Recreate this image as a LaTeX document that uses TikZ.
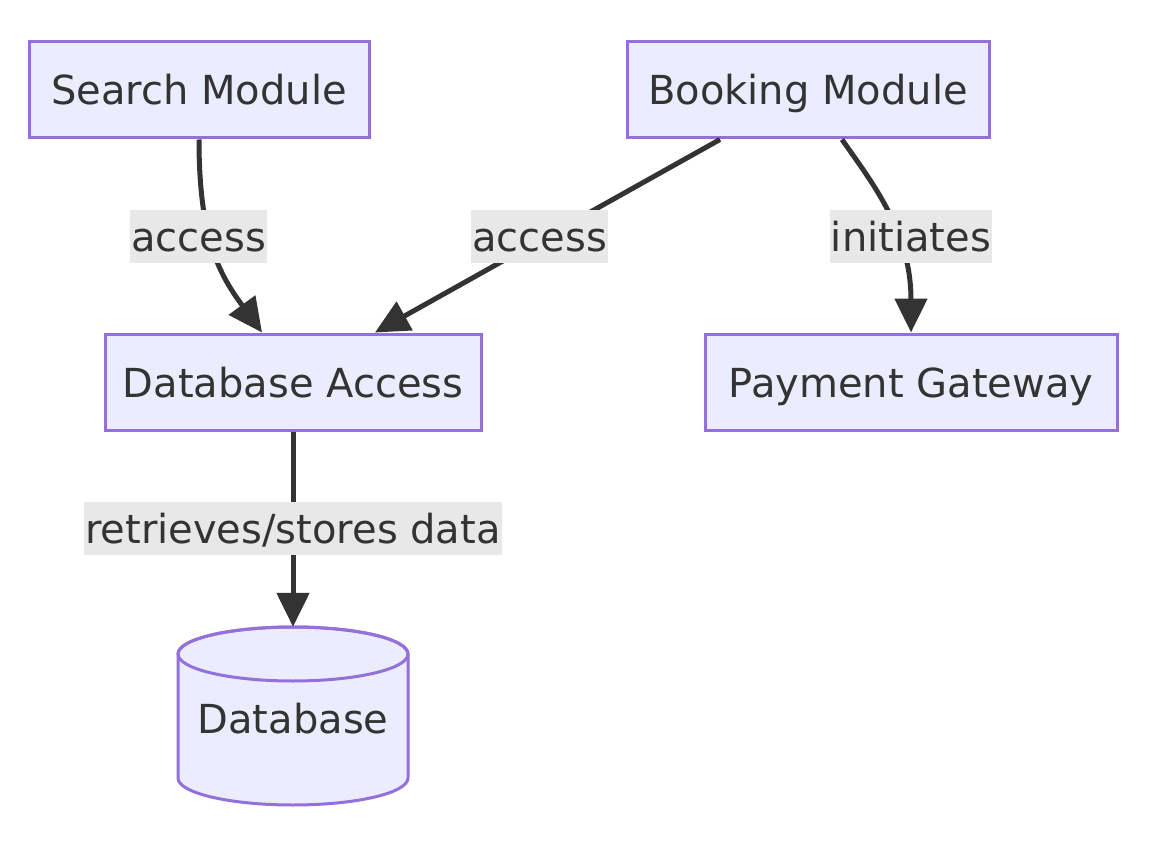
\documentclass[tikz,border=0pt]{standalone}
\usepackage{fontspec}
\setmainfont{DejaVu Sans}
\usetikzlibrary{arrows.meta,calc}
\definecolor{nodefill}{HTML}{ECECFF}
\definecolor{nodestroke}{HTML}{9370DB}
\definecolor{edgecol}{HTML}{333333}
\definecolor{lblfill}{HTML}{E8E8E8}
\definecolor{txt}{HTML}{333333}
\tikzset{
  box/.style={draw=nodestroke, fill=nodefill, line width=3pt, rectangle,
    minimum height=96pt, inner sep=0pt, text=txt, text height=30pt, text depth=0pt,
    font=\fontsize{40}{46}\selectfont},
  edge/.style={draw=edgecol, line width=5pt, -{Triangle[length=34pt,width=32pt]}},
  lbl/.style={fill=lblfill, inner xsep=1pt, inner ysep=0pt, minimum height=53pt,
    text=txt, text height=30pt, text depth=0pt, font=\fontsize{40}{46}\selectfont},
}
\begin{document}
\begin{tikzpicture}[x=1pt,y=-1pt]
\useasboundingbox (0,0) rectangle (1152,856);
\fill[white] (0,0) rectangle (1152,856);
\node[box, minimum width=340pt] (search) at (199,90) {Search Module};
\node[box, minimum width=362pt] (booking) at (808,90) {Booking Module};
\node[box, minimum width=376pt] (dbacc) at (293,382) {Database Access};
\node[box, minimum width=412pt] (pay) at (911,382) {Payment Gateway};
% cylinder
\filldraw[draw=nodestroke, fill=nodefill, line width=3pt]
  (178,654) -- (178,778) arc[start angle=180, end angle=360, x radius=115pt, y radius=27pt]
  -- (408,654) arc[start angle=0, end angle=180, x radius=115pt, y radius=27pt] -- cycle;
\draw[draw=nodestroke, line width=3pt] (293,654) ellipse[x radius=115pt, y radius=27pt];
\node[inner sep=0pt, minimum width=230pt, minimum height=178pt] (db) at (293,716) {};
\node[text=txt, inner sep=0pt, text height=30pt, text depth=0pt,
  font=\fontsize{40}{46}\selectfont] (dbtext) at (293,718) {Database};
% edges
\draw[edge] (search.south) .. controls (199,240) and (220,275) .. (262,0 |- dbacc.north);
\draw[edge] (720,0 |- booking.south) -- (375,0 |- dbacc.north);
\draw[edge] (842,0 |- booking.south) .. controls (870,180) and (911,230) .. (pay.north);
\draw[edge] (dbacc.south) -- (db.north);
% labels
\node[lbl] (l1) at (198.5,236.5) {access};
\node[lbl] (l2) at (539.5,236.5) {access};
\node[lbl] (l3) at (911,236.5) {initiates};
\node[lbl] (l4) at (293,528.5) {retrieves/stores data};
\end{tikzpicture}
\end{document}
